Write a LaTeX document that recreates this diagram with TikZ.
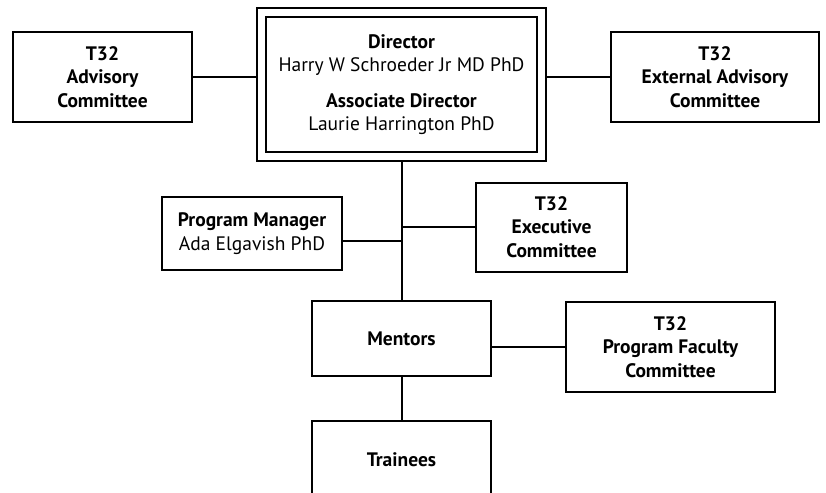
\documentclass[tikz,border=0pt]{standalone}
\usepackage{fontspec}
\setmainfont{PT Sans}
\usetikzlibrary{fit}

\begin{document}
\begin{tikzpicture}[x=1pt, y=-1pt, line width=2pt,
    font=\fontsize{19.5}{23.5}\selectfont]

  \useasboundingbox (0,0) rectangle (826,492);
  \clip (0,0) rectangle (826,492);

  % Direccion (doble marco)
  \node[draw, align=center, minimum width=271pt, minimum height=135pt] (director) at (401.5,84.5)
    {\textbf{Director}\\Harry W Schroeder Jr MD PhD\\[12pt]\textbf{Associate Director}\\Laurie Harrington PhD};
  \node[draw, fit=(director), inner sep=8pt, line width=2.4pt] (dirframe) {};

  % Cajas (comites y personas)
  \begin{scope}[every node/.style={draw, align=center, font=\fontsize{19.5}{23.5}\selectfont\bfseries}]
    \node[minimum width=179pt, minimum height=90pt] (advisory) at (102.5,77) {T32\\Advisory\\Committee};
    \node[minimum width=208pt, minimum height=89pt] (external) at (715,77) {T32\\External Advisory\\Committee};
    \node[minimum width=180pt, minimum height=73pt] (progmgr) at (252,233.5) {Program Manager\\\mdseries Ada Elgavish PhD};
    \node[minimum width=151pt, minimum height=89pt] (executive) at (551.5,227) {T32\\Executive\\Committee};
    \node[minimum width=179pt, minimum height=75pt] (mentors) at (401.5,338.5) {Mentors};
    \node[minimum width=209pt, minimum height=90pt] (faculty) at (670.5,347) {T32\\Program Faculty\\Committee};
    \node[minimum width=179pt, minimum height=78pt] (trainees) at (401.5,460) {Trainees};
  \end{scope}

  % Lineas
  \draw (advisory.east) -- (advisory.east -| dirframe.west);
  \draw (external.west) -- (external.west -| dirframe.east);
  \draw (dirframe.south -| mentors.north) -- (mentors.north);
  \draw ([yshift=-7.5pt]progmgr.east) -- ([yshift=-7.5pt]progmgr.east -| mentors.north);
  \draw (executive.west) -- (executive.west -| mentors.north);
  \draw (faculty.west) -- (faculty.west -| mentors.east);
  \draw (mentors.south) -- (trainees.north);

\end{tikzpicture}
\end{document}
